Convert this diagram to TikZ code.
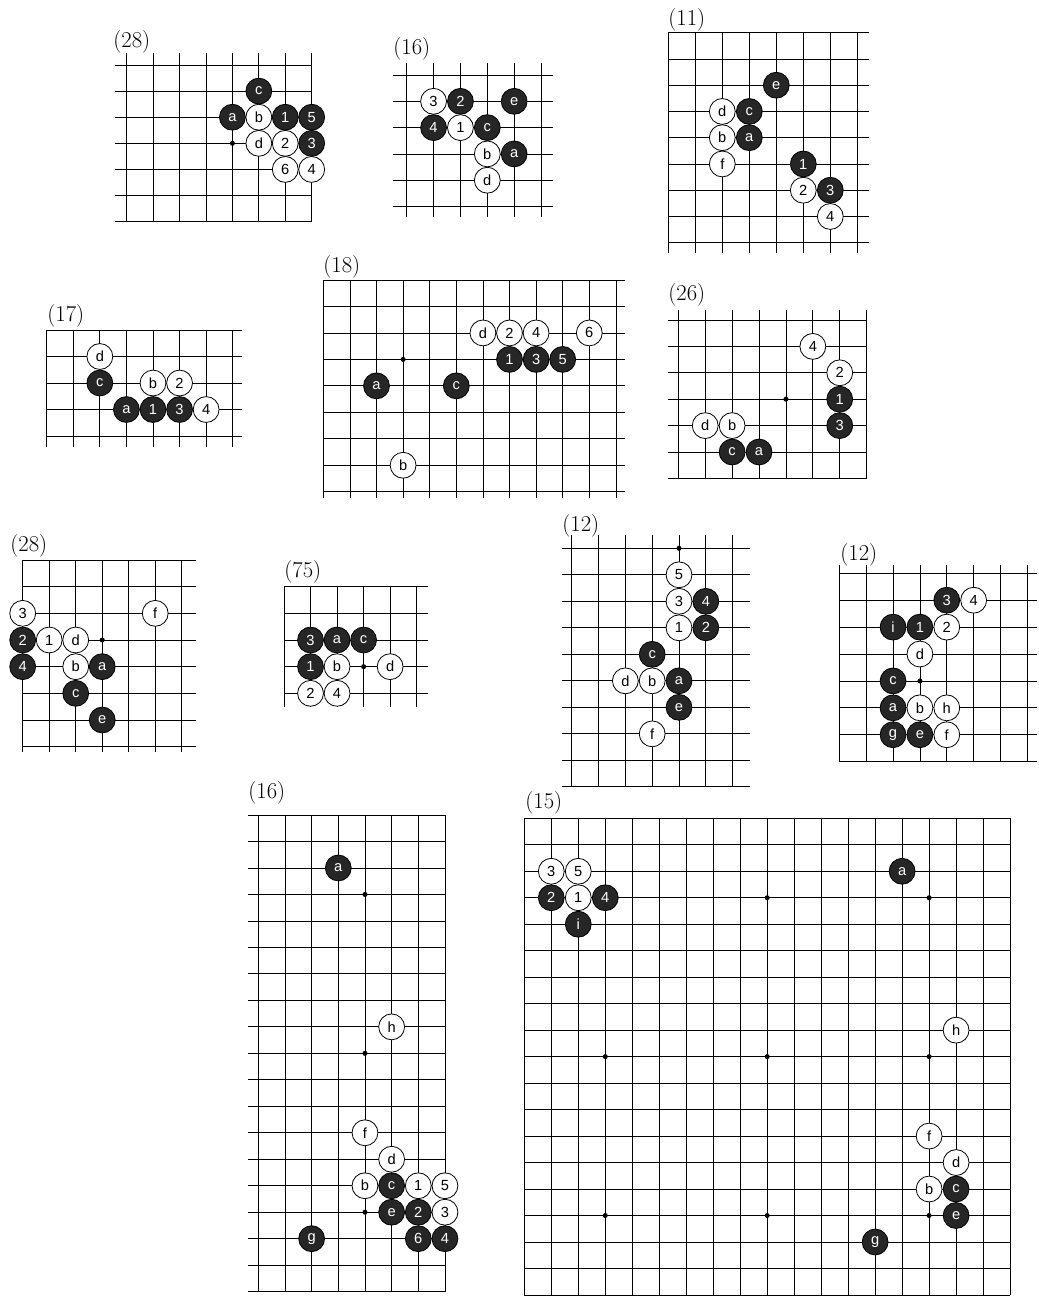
\documentclass[tikz,border=0pt]{standalone}
\usepackage{fontspec}
\setsansfont{Liberation Sans}
\begin{document}
\begin{tikzpicture}[x=0.75pt, y=-0.75pt, line width=0.6pt,
    bstone/.style={draw, circle, fill=black!85, text=white, minimum size=19.4pt, inner sep=0pt, font=\sffamily\fontsize{11}{11}\selectfont},
    wstone/.style={draw, circle, fill=white, minimum size=19.4pt, inner sep=0pt, font=\sffamily\fontsize{11}{11}\selectfont},
    hoshi/.style={circle, fill=black, inner sep=0pt, minimum size=3.8pt},
    dlabel/.style={anchor=west, inner sep=0pt, font=\fontsize{17}{17}\selectfont}]
\useasboundingbox (0,0) rectangle (1038,1298);

\node[dlabel] (ta-t) at (113,41.5) {(28)};
\begin{scope}[shift={(126.7,65)}, x=19.82pt, y=-19.58pt]
    \foreach \c in {0,...,7} \draw (\c,-0.45) -- (\c,6);
    \foreach \r in {0,...,6} \draw (-0.45,\r) -- (7,\r);
    \node[hoshi] (ta-h) at (4,3) {};
    \node[bstone] (ta-c) at (5,1) {c};
    \node[bstone] (ta-a) at (4,2) {a};
    \node[wstone] (ta-b) at (5,2) {b};
    \node[bstone] (ta-1) at (6,2) {1};
    \node[bstone] (ta-5) at (7,2) {5};
    \node[wstone] (ta-d) at (5,3) {d};
    \node[wstone] (ta-2) at (6,3) {2};
    \node[bstone] (ta-3) at (7,3) {3};
    \node[wstone] (ta-6) at (6,4) {6};
    \node[wstone] (ta-4) at (7,4) {4};
\end{scope}

\node[dlabel] (tb-t) at (393,48.5) {(16)};
\begin{scope}[shift={(406.7,75)}, x=20.15pt, y=-19.73pt]
    \foreach \c in {0,...,5} \draw (\c,-0.46) -- (\c,5.4);
    \foreach \r in {0,...,5} \draw (-0.5,\r) -- (5.45,\r);
    \node[wstone] (tb-3) at (1,1) {3};
    \node[bstone] (tb-2) at (2,1) {2};
    \node[bstone] (tb-e) at (4,1) {e};
    \node[bstone] (tb-4) at (1,2) {4};
    \node[wstone] (tb-1) at (2,2) {1};
    \node[bstone] (tb-c) at (3,2) {c};
    \node[wstone] (tb-b) at (3,3) {b};
    \node[bstone] (tb-a) at (4,3) {a};
    \node[wstone] (tb-d) at (3,4) {d};
\end{scope}

\node[dlabel] (tc-t) at (668,20) {(11)};
\begin{scope}[shift={(668.3,32.7)}, x=20.25pt, y=-19.69pt]
    \foreach \c in {0,...,7} \draw (\c,0) -- (\c,8.4);
    \foreach \r in {0,...,8} \draw (0,\r) -- (7.45,\r);
    \node[bstone] (tc-e) at (4,2) {e};
    \node[wstone] (tc-d) at (2,3) {d};
    \node[bstone] (tc-c) at (3,3) {c};
    \node[wstone] (tc-b) at (2,4) {b};
    \node[bstone] (tc-a) at (3,4) {a};
    \node[wstone] (tc-f) at (2,5) {f};
    \node[bstone] (tc-1) at (5,5) {1};
    \node[wstone] (tc-2) at (5,6) {2};
    \node[bstone] (tc-3) at (6,6) {3};
    \node[wstone] (tc-4) at (6,7) {4};
\end{scope}

\node[dlabel] (md-t) at (47,316) {(17)};
\begin{scope}[shift={(46.7,330)}, x=19.93pt, y=-19.88pt]
    \foreach \c in {0,...,7} \draw (\c,0) -- (\c,4.4);
    \foreach \r in {0,...,4} \draw (0,\r) -- (7.35,\r);
    \node[wstone] (md-d) at (2,1) {d};
    \node[bstone] (md-c) at (2,2) {c};
    \node[wstone] (md-b) at (4,2) {b};
    \node[wstone] (md-2) at (5,2) {2};
    \node[bstone] (md-a) at (3,3) {a};
    \node[bstone] (md-1) at (4,3) {1};
    \node[bstone] (md-3) at (5,3) {3};
    \node[wstone] (md-4) at (6,3) {4};
\end{scope}

\node[dlabel] (me-t) at (323,267) {(18)};
\begin{scope}[shift={(323.3,280)}, x=19.95pt, y=-19.85pt]
    \foreach \c in {0,...,11} \draw (\c,0) -- (\c,8.25);
    \foreach \r in {0,...,8} \draw (0,\r) -- (11.35,\r);
    \node[hoshi] (me-h) at (3,3) {};
    \node[wstone] (me-d) at (6,2) {d};
    \node[wstone] (me-2) at (7,2) {2};
    \node[wstone] (me-4) at (8,2) {4};
    \node[wstone] (me-6) at (10,2) {6};
    \node[bstone] (me-1) at (7,3) {1};
    \node[bstone] (me-3) at (8,3) {3};
    \node[bstone] (me-5) at (9,3) {5};
    \node[bstone] (me-a) at (2,4) {a};
    \node[bstone] (me-c) at (5,4) {c};
    \node[wstone] (me-b) at (3,7) {b};
\end{scope}

\node[dlabel] (mf-t) at (668,295) {(26)};
\begin{scope}[shift={(678.3,320)}, x=20.18pt, y=-19.8pt]
    \foreach \c in {0,...,7} \draw (\c,-0.38) -- (\c,6);
    \foreach \r in {0,...,6} \draw (-0.38,\r) -- (7,\r);
    \node[hoshi] (mf-h) at (4,3) {};
    \node[wstone] (mf-4) at (5,1) {4};
    \node[wstone] (mf-2) at (6,2) {2};
    \node[bstone] (mf-1) at (6,3) {1};
    \node[bstone] (mf-3) at (6,4) {3};
    \node[wstone] (mf-d) at (1,4) {d};
    \node[wstone] (mf-b) at (2,4) {b};
    \node[bstone] (mf-c) at (2,5) {c};
    \node[bstone] (mf-a) at (3,5) {a};
\end{scope}

\node[dlabel] (lg-t) at (10,546) {(28)};
\begin{scope}[shift={(22.7,560)}, x=19.88pt, y=-20pt]
    \foreach \c in {0,...,6} \draw (\c,0) -- (\c,7.2);
    \foreach \r in {0,...,7} \draw (0,\r) -- (6.55,\r);
    \node[hoshi] (lg-h) at (3,3) {};
    \node[wstone] (lg-3) at (0,2) {3};
    \node[wstone] (lg-f) at (5,2) {f};
    \node[bstone] (lg-2) at (0,3) {2};
    \node[wstone] (lg-1) at (1,3) {1};
    \node[wstone] (lg-d) at (2,3) {d};
    \node[bstone] (lg-4) at (0,4) {4};
    \node[wstone] (lg-b) at (2,4) {b};
    \node[bstone] (lg-a) at (3,4) {a};
    \node[bstone] (lg-c) at (2,5) {c};
    \node[bstone] (lg-e) at (3,6) {e};
\end{scope}

\node[dlabel] (lh-t) at (284,572) {(75)};
\begin{scope}[shift={(284,586.7)}, x=19.9pt, y=-19.99pt]
    \foreach \c in {0,...,5} \draw (\c,0) -- (\c,4.5);
    \foreach \r in {0,...,4} \draw (0,\r) -- (5.43,\r);
    \node[hoshi] (lh-h) at (3,3) {};
    \node[bstone] (lh-3) at (1,2) {3};
    \node[bstone] (lh-a) at (2,2) {a};
    \node[bstone] (lh-c) at (3,2) {c};
    \node[bstone] (lh-1) at (1,3) {1};
    \node[wstone] (lh-b) at (2,3) {b};
    \node[wstone] (lh-d) at (4,3) {d};
    \node[wstone] (lh-2) at (1,4) {2};
    \node[wstone] (lh-4) at (2,4) {4};
\end{scope}

\node[dlabel] (li-t) at (562,526) {(12)};
\begin{scope}[shift={(571.7,548.3)}, x=20.12pt, y=-19.88pt]
    \foreach \c in {0,...,6} \draw (\c,-0.5) -- (\c,9);
    \foreach \r in {0,...,9} \draw (-0.37,\r) -- (6.65,\r);
    \node[hoshi] (li-h) at (4,0) {};
    \node[wstone] (li-5) at (4,1) {5};
    \node[wstone] (li-3) at (4,2) {3};
    \node[bstone] (li-4) at (5,2) {4};
    \node[wstone] (li-1) at (4,3) {1};
    \node[bstone] (li-2) at (5,3) {2};
    \node[bstone] (li-c) at (3,4) {c};
    \node[wstone] (li-d) at (2,5) {d};
    \node[wstone] (li-b) at (3,5) {b};
    \node[bstone] (li-a) at (4,5) {a};
    \node[bstone] (li-e) at (4,6) {e};
    \node[wstone] (li-f) at (3,7) {f};
\end{scope}

\node[dlabel] (lj-t) at (840,555) {(12)};
\begin{scope}[shift={(839.3,573.3)}, x=20.15pt, y=-20.18pt]
    \foreach \c in {0,...,7} \draw (\c,-0.31) -- (\c,7);
    \foreach \r in {0,...,7} \draw (0,\r) -- (7.35,\r);
    \node[hoshi] (lj-h) at (3,4) {};
    \node[bstone] (lj-3) at (4,1) {3};
    \node[wstone] (lj-4) at (5,1) {4};
    \node[bstone] (lj-i) at (2,2) {i};
    \node[bstone] (lj-1) at (3,2) {1};
    \node[wstone] (lj-2) at (4,2) {2};
    \node[wstone] (lj-d) at (3,3) {d};
    \node[bstone] (lj-c) at (2,4) {c};
    \node[bstone] (lj-a) at (2,5) {a};
    \node[wstone] (lj-b) at (3,5) {b};
    \node[wstone] (lj-h2) at (4,5) {h};
    \node[bstone] (lj-g) at (2,6) {g};
    \node[bstone] (lj-e) at (3,6) {e};
    \node[wstone] (lj-f) at (4,6) {f};
\end{scope}

\node[dlabel] (bk-t) at (248,793) {(16)};
\begin{scope}[shift={(258.3,815)}, x=20pt, y=-19.86pt]
    \foreach \c in {0,...,7} \draw (\c,0) -- (\c,18);
    \foreach \r in {0,...,18} \draw (-0.39,\r) -- (7,\r);
    \foreach \r in {3,9,15} \node[hoshi] (bk-h\r) at (4,\r) {};
    \node[bstone] (bk-a) at (3,2) {a};
    \node[wstone] (bk-h) at (5,8) {h};
    \node[wstone] (bk-f) at (4,12) {f};
    \node[wstone] (bk-d) at (5,13) {d};
    \node[wstone] (bk-b) at (4,14) {b};
    \node[bstone] (bk-c) at (5,14) {c};
    \node[wstone] (bk-1) at (6,14) {1};
    \node[wstone] (bk-5) at (7,14) {5};
    \node[bstone] (bk-e) at (5,15) {e};
    \node[bstone] (bk-2) at (6,15) {2};
    \node[wstone] (bk-3) at (7,15) {3};
    \node[bstone] (bk-g) at (2,16) {g};
    \node[bstone] (bk-6) at (6,16) {6};
    \node[bstone] (bk-4) at (7,16) {4};
\end{scope}

\node[dlabel] (bl-t) at (525,803) {(15)};
\begin{scope}[shift={(524.3,818.3)}, x=20.24pt, y=-19.86pt]
    \foreach \c in {0,...,18} \draw (\c,0) -- (\c,18);
    \foreach \r in {0,...,18} \draw (0,\r) -- (18,\r);
    \foreach \c in {3,9,15} \foreach \r in {3,9,15} \node[hoshi] (bl-h\c\r) at (\c,\r) {};
    \node[wstone] (bl-3) at (1,2) {3};
    \node[wstone] (bl-5) at (2,2) {5};
    \node[bstone] (bl-2) at (1,3) {2};
    \node[wstone] (bl-1) at (2,3) {1};
    \node[bstone] (bl-4) at (3,3) {4};
    \node[bstone] (bl-i) at (2,4) {i};
    \node[bstone] (bl-a) at (14,2) {a};
    \node[wstone] (bl-h) at (16,8) {h};
    \node[wstone] (bl-f) at (15,12) {f};
    \node[wstone] (bl-d) at (16,13) {d};
    \node[wstone] (bl-b) at (15,14) {b};
    \node[bstone] (bl-c) at (16,14) {c};
    \node[bstone] (bl-e) at (16,15) {e};
    \node[bstone] (bl-g) at (13,16) {g};
\end{scope}
\end{tikzpicture}
\end{document}
